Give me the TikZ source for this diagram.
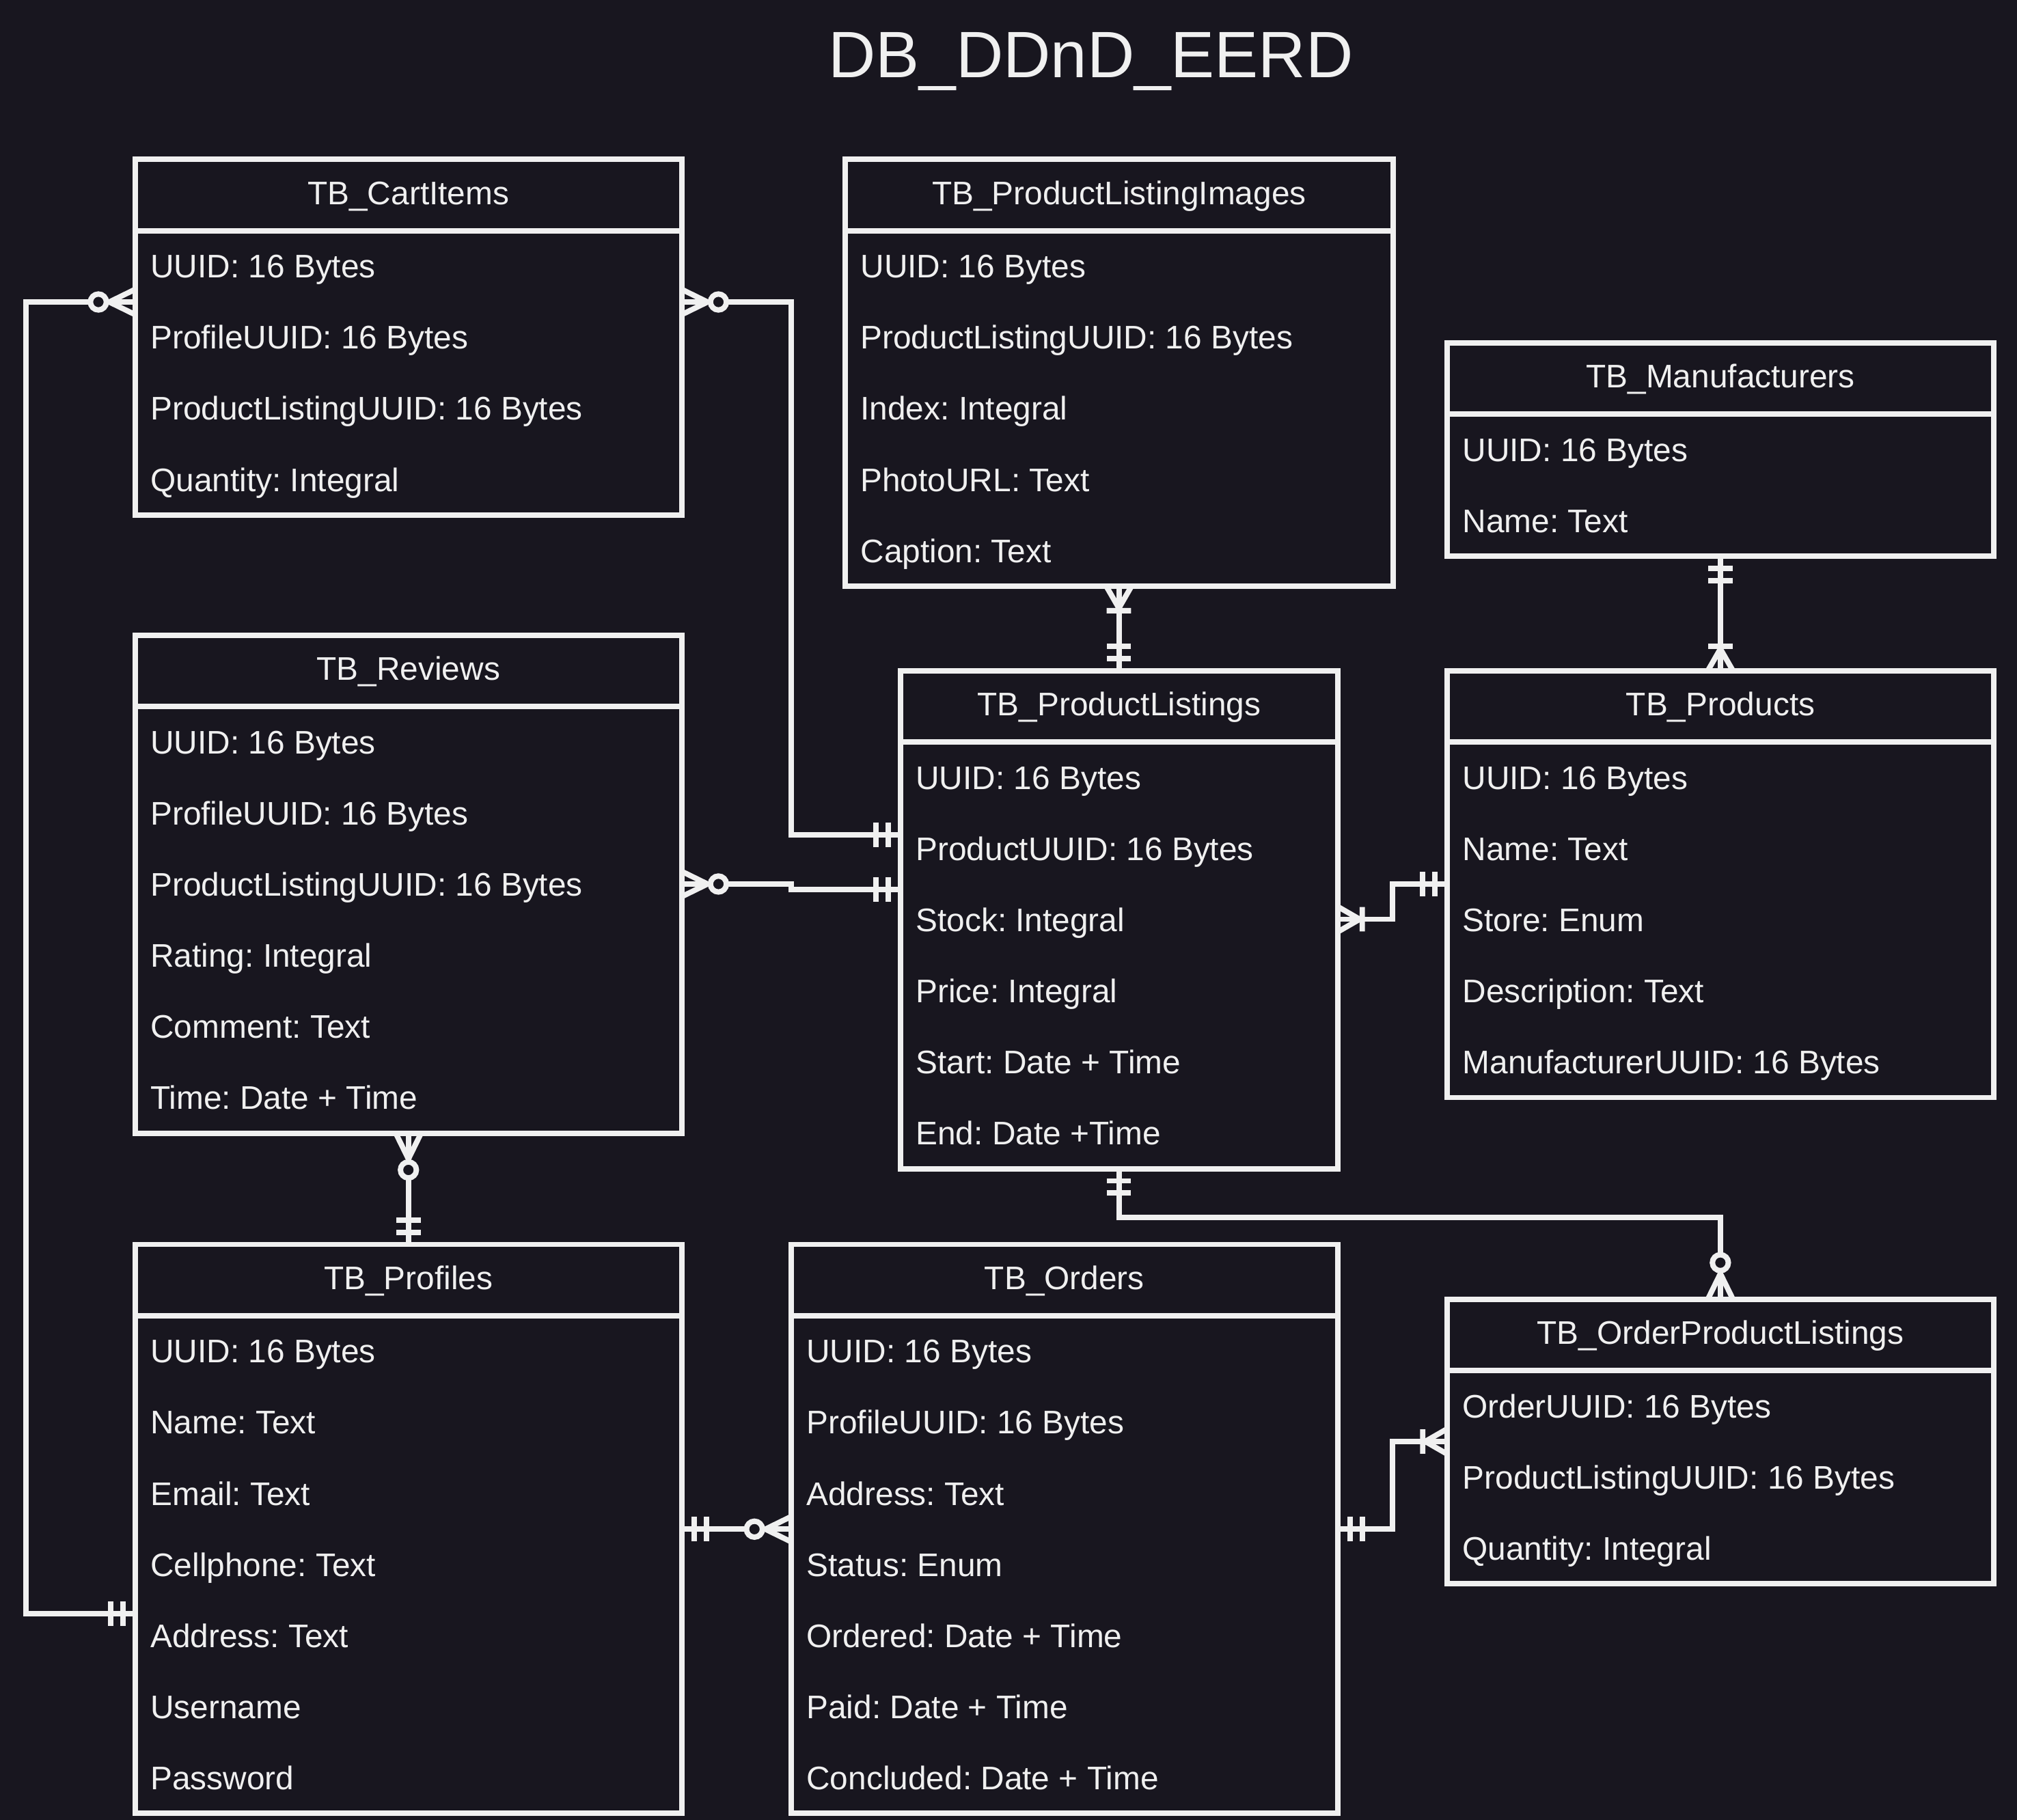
\documentclass[tikz,border=0pt]{standalone}
\usepackage{fontspec}
\setmainfont{Liberation Sans}
\usetikzlibrary{calc}
\definecolor{bg}{RGB}{24,22,31}
\definecolor{fg}{RGB}{240,240,240}
\tikzset{
  conn/.style={draw=fg, line width=4.2pt},
  ebox/.style={draw=fg, line width=4.2pt, inner sep=0pt, outer sep=0pt},
  etext/.style={text=fg, inner sep=0pt, outer sep=0pt, font=\fontsize{25.4}{30}\selectfont\frenchspacing},
  ttext/.style={text=fg, inner sep=0pt, outer sep=0pt, font=\fontsize{51}{60}\selectfont},
}
% #1 name, #2 left, #3 top, #4 width, #5 title, #6 nrows, #7 rows
\newcommand\entity[7]{%
  \node[ebox, anchor=north west, minimum width=#4pt, minimum height={(#6+1)*55.3pt}] (#1) at (#2,#3) {};
  \draw[conn] ([yshift=-55.3pt]#1.north west) -- ([yshift=-55.3pt]#1.north east);
  \node[etext, anchor=base] (#1-t) at ([yshift=-35pt]#1.north) {#5};
  \foreach \rowtext [count=\i] in {#7} {
    \node[etext, anchor=base west] (#1-\i) at ([xshift=12pt, yshift={-(55.3*\i+36.75)*1pt}]#1.north west) {\rowtext};
  }%
}
\newcommand\mone[2]{\begin{scope}[shift={(#1)},x=1pt,y=1pt,rotate=#2]
  \draw[conn] (9.5,-9.5)--(9.5,9.5) (19,-9.5)--(19,9.5);\end{scope}}
\newcommand\mzmany[2]{\begin{scope}[shift={(#1)},x=1pt,y=1pt,rotate=#2]
  \draw[conn] (0,9.8)--(20,0)--(0,-9.8);
  \draw[conn, fill=bg] (28.5,0) circle[radius=6.2pt];\end{scope}}
\newcommand\momany[2]{\begin{scope}[shift={(#1)},x=1pt,y=1pt,rotate=#2]
  \draw[conn] (0,9.8)--(17,0)--(0,-9.8) (19,-9.5)--(19,9.5);\end{scope}}

\begin{document}
\frenchspacing
\begin{tikzpicture}[x=1pt,y=-1pt]
\useasboundingbox (0,0) rectangle (1568,1415);
\fill[bg] (0,0) rectangle (1568,1415);

\node[ttext, anchor=base] (title) at (848,60.3) {DB\_DDnD\_EERD};

\entity{cart}{105}{124}{425}{TB\_CartItems}{4}{UUID: 16 Bytes,ProfileUUID: 16 Bytes,ProductListingUUID: 16 Bytes,Quantity: Integral}
\entity{imgs}{657}{124}{426}{TB\_ProductListingImages}{5}{UUID: 16 Bytes,ProductListingUUID: 16 Bytes,Index: Integral,PhotoURL: Text,Caption: Text}
\entity{manu}{1125}{266.5}{425}{TB\_Manufacturers}{2}{UUID: 16 Bytes,Name: Text}
\entity{rev}{105}{494}{425}{TB\_Reviews}{6}{UUID: 16 Bytes,ProfileUUID: 16 Bytes,ProductListingUUID: 16 Bytes,Rating: Integral,Comment: Text,Time: Date + Time}
\entity{pl}{700}{521.5}{340}{TB\_ProductListings}{6}{UUID: 16 Bytes,ProductUUID: 16 Bytes,Stock: Integral,Price: Integral,Start: Date + Time,End: Date +Time}
\entity{prod}{1125}{521.5}{425}{TB\_Products}{5}{UUID: 16 Bytes,Name: Text,Store: Enum,Description: Text,ManufacturerUUID: 16 Bytes}
\entity{prof}{105}{967.5}{425}{TB\_Profiles}{7}{UUID: 16 Bytes,Name: Text,Email: Text,Cellphone: Text,Address: Text,Username,Password}
\entity{ord}{615}{967.5}{425}{TB\_Orders}{7}{UUID: 16 Bytes,ProfileUUID: 16 Bytes,Address: Text,Status: Enum,Ordered: Date + Time,Paid: Date + Time,Concluded: Date + Time}
\entity{opl}{1125}{1010.2}{425}{TB\_OrderProductListings}{3}{OrderUUID: 16 Bytes,ProductListingUUID: 16 Bytes,Quantity: Integral}

% helper positions
\coordinate (Y1a) at (0,1254.7);
\coordinate (Y1b) at (0,234.8);
\coordinate (Y2b) at (0,649);
\coordinate (Y3a) at (0,687.3);
\coordinate (Y3b) at (0,691.5);
\coordinate (X4) at (869.8,0);
\coordinate (X5) at (1337.4,0);
\coordinate (Y6a) at (0,687.5);
\coordinate (Y6b) at (0,714.7);
\coordinate (X7) at (317.5,0);
\coordinate (Y9) at (0,1188.9);
\coordinate (Y10) at (0,1120.7);

\coordinate (c1a) at (prof.west |- Y1a);
\coordinate (c1b) at (cart.west |- Y1b);
\coordinate (c2a) at (cart.east |- Y1b);
\coordinate (c2b) at (pl.west |- Y2b);
\coordinate (c3a) at (rev.east |- Y3a);
\coordinate (c3b) at (pl.west |- Y3b);
\coordinate (c4a) at (imgs.south -| X4);
\coordinate (c4b) at (pl.north -| X4);
\coordinate (c5a) at (manu.south -| X5);
\coordinate (c5b) at (prod.north -| X5);
\coordinate (c6a) at (prod.west |- Y6a);
\coordinate (c6b) at (pl.east |- Y6b);
\coordinate (c7a) at (rev.south -| X7);
\coordinate (c7b) at (prof.north -| X7);
\coordinate (c8a) at (pl.south -| X4);
\coordinate (c8b) at (opl.north -| X5);
\coordinate (c9a) at (prof.east |- Y9);
\coordinate (c9b) at (ord.west |- Y9);
\coordinate (c10a) at (ord.east |- Y9);
\coordinate (c10b) at (opl.west |- Y10);

\coordinate (k1) at (20.3,700);
\coordinate (k2) at (615,500);
\coordinate (k3) at (615,689);
\coordinate (k6) at (1082.5,700);
\coordinate (k8) at (1100,946.3);
\coordinate (k10) at (1082.6,1150);

\draw[conn] (c1a) -| (k1) |- (c1b);
\draw[conn] (c2a) -| (k2) |- (c2b);
\draw[conn] (c3a) -| (k3) |- (c3b);
\draw[conn] (c4a) -- (c4b);
\draw[conn] (c5a) -- (c5b);
\draw[conn] (c6a) -| (k6) |- (c6b);
\draw[conn] (c7a) -- (c7b);
\draw[conn] (c8a) |- (k8) -| (c8b);
\draw[conn] (c9a) -- (c9b);
\draw[conn] (c10a) -| (k10) |- (c10b);

\mone{c1a}{180} \mzmany{c1b}{180}
\mzmany{c2a}{0} \mone{c2b}{180}
\mzmany{c3a}{0} \mone{c3b}{180}
\momany{c4a}{270} \mone{c4b}{90}
\mone{c5a}{270} \momany{c5b}{90}
\mone{c6a}{180} \momany{c6b}{0}
\mzmany{c7a}{270} \mone{c7b}{90}
\mone{c8a}{270} \mzmany{c8b}{90}
\mone{c9a}{0} \mzmany{c9b}{180}
\mone{c10a}{0} \momany{c10b}{180}
\end{tikzpicture}
\end{document}
